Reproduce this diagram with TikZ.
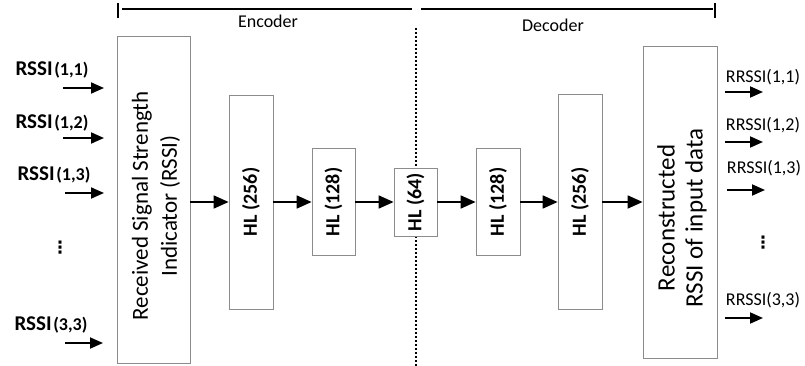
\documentclass[tikz,border=0pt]{standalone}
\usepackage{fontspec}
\setmainfont{Carlito}
\newfontfamily\dejavu{DejaVu Sans}
\usetikzlibrary{arrows.meta}
\newcommand{\inlab}[1]{{\fontsize{21}{22}\selectfont RSSI}\,{\fontsize{18}{22}\selectfont(#1)}}
\tikzset{
  layerbox/.style={draw=black!45, line width=0.8pt, fill=white, inner sep=0pt},
  flow/.style={line width=1.8pt, -{Triangle[length=15pt,width=13pt]}},
  inarr/.style={line width=1.8pt, -{Triangle[length=13pt,width=11pt]}},
  hltext/.style={font=\fontsize{20}{22}\selectfont\bfseries},
  inlabel/.style={font=\bfseries, inner sep=0pt},
  outlabel/.style={font=\fontsize{18}{20}\selectfont, inner sep=0pt},
  vdots/.style={font=\dejavu\bfseries\fontsize{17}{17}\selectfont, inner sep=0pt},
  brace/.style={line width=1.6pt},
}
\begin{document}
\begin{tikzpicture}[x=1pt,y=-1pt]
\useasboundingbox (0,0) rectangle (805,366);
% top bracket
\coordinate (tl1) at (118,3);
\coordinate (tl2) at (118,18);
\coordinate (tr1) at (715,3);
\coordinate (tr2) at (715,18);
\coordinate (la) at (122,9);
\coordinate (lb) at (412,9);
\coordinate (lc) at (421,9);
\coordinate (ld) at (713,9);
\draw[brace] (tl1) -- (tl2);
\draw[brace] (tr1) -- (tr2);
\draw[brace] (la) -- (lb);
\draw[brace] (lc) -- (ld);
\node[font=\fontsize{18}{20}\selectfont] (enc) at (268,21) {Encoder};
\node[font=\fontsize{18}{20}\selectfont] (dec) at (553,25) {Decoder};
% dotted divider
\coordinate (dtop) at (416,28);
\coordinate (dbot) at (416,366);
\draw[line width=1.8pt, dash pattern=on 2pt off 2pt] (dtop) -- (dbot);
% boxes
\node[layerbox, minimum width=73pt, minimum height=327pt] (rssi) at (153.5,199.5) {};
\node[rotate=90, align=center, font=\fontsize{23}{29}\selectfont] (rssiT) at (156,206) {Received Signal Strength\\Indicator (RSSI)};
\node[layerbox, minimum width=44pt, minimum height=214pt] (h1) at (251,202) {};
\node[rotate=90, hltext] (h1T) at (251,202) {HL (256)};
\node[layerbox, minimum width=43pt, minimum height=107pt] (h2) at (333.5,202) {};
\node[rotate=90, hltext] (h2T) at (333.5,202) {HL (128)};
\node[layerbox, minimum width=43pt, minimum height=68pt] (h3) at (415.5,202) {};
\node[rotate=90, hltext] (h3T) at (415.5,202) {HL (64)};
\node[layerbox, minimum width=44pt, minimum height=107pt] (h4) at (498,202) {};
\node[rotate=90, hltext] (h4T) at (498,202) {HL (128)};
\node[layerbox, minimum width=44pt, minimum height=215pt] (h5) at (580,202) {};
\node[rotate=90, hltext] (h5T) at (580,202) {HL (256)};
\node[layerbox, minimum width=74pt, minimum height=312pt] (rec) at (680,202) {};
\node[rotate=90, align=center, font=\fontsize{25}{28}\selectfont] (recT) at (682,218) {Reconstructed\\RSSI of input data};
% flow arrows
\draw[flow] (rssi.east |- h1.west) -- (h1.west);
\draw[flow] (h1.east) -- (h2.west);
\draw[flow] (h2.east) -- (h3.west);
\draw[flow] (h3.east) -- (h4.west);
\draw[flow] (h4.east) -- (h5.west);
\draw[flow] (h5.east) -- (rec.west |- h5.east);
% input labels and arrows
\node[inlabel] (i1) at (52,70) {\inlab{1,1}};
\node[inlabel] (i2) at (52,123) {\inlab{1,2}};
\node[inlabel] (i3) at (54,175) {\inlab{1,3}};
\node[vdots] (idots) at (60,248) {⋮};
\node[inlabel] (i4) at (51,325) {\inlab{3,3}};
\coordinate (a1s) at (63,88);   \coordinate (a1e) at (104,88);
\coordinate (a2s) at (63,138);  \coordinate (a2e) at (104,138);
\coordinate (a3s) at (65,193);  \coordinate (a3e) at (104,193);
\coordinate (a4s) at (65,343);  \coordinate (a4e) at (103,343);
\draw[inarr] (a1s) -- (a1e);
\draw[inarr] (a2s) -- (a2e);
\draw[inarr] (a3s) -- (a3e);
\draw[inarr] (a4s) -- (a4e);
% output labels and arrows
\node[outlabel] (o1) at (763,77) {RRSSI(1,1)};
\node[outlabel] (o2) at (763,125) {RRSSI(1,2)};
\node[outlabel] (o3) at (764,168) {RRSSI(1,3)};
\node[vdots] (odots) at (763,243) {⋮};
\node[outlabel] (o4) at (763,300) {RRSSI(3,3)};
\coordinate (b1s) at (725,92);   \coordinate (b1e) at (763,92);
\coordinate (b2s) at (725,142);  \coordinate (b2e) at (763,142);
\coordinate (b3s) at (727,190);  \coordinate (b3e) at (765,190);
\coordinate (b4s) at (725,318);  \coordinate (b4e) at (763,318);
\draw[inarr] (b1s) -- (b1e);
\draw[inarr] (b2s) -- (b2e);
\draw[inarr] (b3s) -- (b3e);
\draw[inarr] (b4s) -- (b4e);
\end{tikzpicture}
\end{document}
